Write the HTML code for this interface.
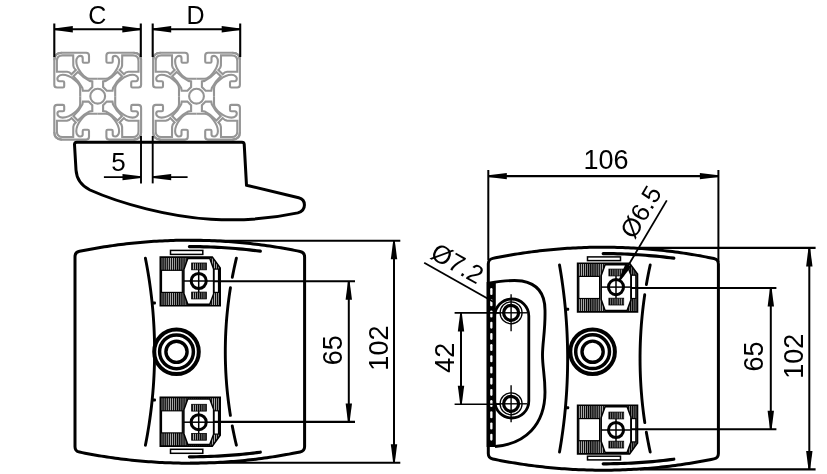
<!DOCTYPE html><html><head><meta charset="utf-8"><style>html,body{margin:0;padding:0;background:#fff;width:827px;height:474px;overflow:hidden}</style></head><body><svg width="827" height="474" viewBox="0 0 827 474" style="display:block;will-change:transform">
<defs><pattern id="hatch" patternUnits="userSpaceOnUse" width="2.1" height="4"><rect width="2.1" height="4" fill="#000"/><rect x="1.3" width="0.6" height="4" fill="#fff"/></pattern><pattern id="hatch2" patternUnits="userSpaceOnUse" width="2.1" height="4"><rect width="2.1" height="4" fill="#000"/><rect x="1.3" width="0.6" height="4" fill="#fff"/></pattern></defs>
<rect width="827" height="474" fill="#fff"/>
<g transform="translate(97.7 96.2)" fill="none" stroke="#959595" stroke-width="2.1">
<g transform="matrix(1 0 0 1 0 0)">
<path d="M0,-17.5 L-7.8,-17.5 C-10.5,-17.5 -14,-20 -16.6,-23.4 C-19.5,-27 -21.4,-30.5 -21.4,-35 C-21.4,-38.8 -19,-40.3 -17.6,-40.3 C-15.9,-40.3 -15,-39.4 -15,-38.3 L-15,-34.8 Q-15,-33.5 -13.8,-33.5 L-10,-33.5 Q-8.7,-33.5 -8.7,-34.8 L-8.7,-40.6 Q-8.7,-43.4 -11.5,-43.4 L-35.9,-43.4 Q-43.4,-43.4 -43.4,-35.9"/>
<path transform="matrix(0 1 1 0 0 0)" d="M0,-17.5 L-7.8,-17.5 C-10.5,-17.5 -14,-20 -16.6,-23.4 C-19.5,-27 -21.4,-30.5 -21.4,-35 C-21.4,-38.8 -19,-40.3 -17.6,-40.3 C-15.9,-40.3 -15,-39.4 -15,-38.3 L-15,-34.8 Q-15,-33.5 -13.8,-33.5 L-10,-33.5 Q-8.7,-33.5 -8.7,-34.8 L-8.7,-40.6 Q-8.7,-43.4 -11.5,-43.4 L-35.9,-43.4 Q-43.4,-43.4 -43.4,-35.9"/>
<path d="M-40.8,-35.3 Q-40.8,-40.8 -35.3,-40.8 L-24.5,-40.8 L-24.4,-30.6 Q-24.2,-28.2 -21.9,-26.2 L-26.2,-21.9 Q-28.2,-24.2 -30.6,-24.4 L-40.8,-24.5 Z"/>
<path d="M-24.3,-19.9 L-19.9,-24.3 C-17.3,-21.5 -12.5,-17.3 -8.2,-15.3 L-5.4,-14.8 L-5.4,-9.1 L-9.1,-5.4 L-14.8,-5.4 L-15.3,-8.2 C-17.3,-12.5 -21.5,-17.3 -24.3,-19.9 Z"/>
</g>
<g transform="matrix(-1 0 0 1 0 0)">
<path d="M0,-17.5 L-7.8,-17.5 C-10.5,-17.5 -14,-20 -16.6,-23.4 C-19.5,-27 -21.4,-30.5 -21.4,-35 C-21.4,-38.8 -19,-40.3 -17.6,-40.3 C-15.9,-40.3 -15,-39.4 -15,-38.3 L-15,-34.8 Q-15,-33.5 -13.8,-33.5 L-10,-33.5 Q-8.7,-33.5 -8.7,-34.8 L-8.7,-40.6 Q-8.7,-43.4 -11.5,-43.4 L-35.9,-43.4 Q-43.4,-43.4 -43.4,-35.9"/>
<path transform="matrix(0 1 1 0 0 0)" d="M0,-17.5 L-7.8,-17.5 C-10.5,-17.5 -14,-20 -16.6,-23.4 C-19.5,-27 -21.4,-30.5 -21.4,-35 C-21.4,-38.8 -19,-40.3 -17.6,-40.3 C-15.9,-40.3 -15,-39.4 -15,-38.3 L-15,-34.8 Q-15,-33.5 -13.8,-33.5 L-10,-33.5 Q-8.7,-33.5 -8.7,-34.8 L-8.7,-40.6 Q-8.7,-43.4 -11.5,-43.4 L-35.9,-43.4 Q-43.4,-43.4 -43.4,-35.9"/>
<path d="M-40.8,-35.3 Q-40.8,-40.8 -35.3,-40.8 L-24.5,-40.8 L-24.4,-30.6 Q-24.2,-28.2 -21.9,-26.2 L-26.2,-21.9 Q-28.2,-24.2 -30.6,-24.4 L-40.8,-24.5 Z"/>
<path d="M-24.3,-19.9 L-19.9,-24.3 C-17.3,-21.5 -12.5,-17.3 -8.2,-15.3 L-5.4,-14.8 L-5.4,-9.1 L-9.1,-5.4 L-14.8,-5.4 L-15.3,-8.2 C-17.3,-12.5 -21.5,-17.3 -24.3,-19.9 Z"/>
</g>
<g transform="matrix(1 0 0 -1 0 0)">
<path d="M0,-17.5 L-7.8,-17.5 C-10.5,-17.5 -14,-20 -16.6,-23.4 C-19.5,-27 -21.4,-30.5 -21.4,-35 C-21.4,-38.8 -19,-40.3 -17.6,-40.3 C-15.9,-40.3 -15,-39.4 -15,-38.3 L-15,-34.8 Q-15,-33.5 -13.8,-33.5 L-10,-33.5 Q-8.7,-33.5 -8.7,-34.8 L-8.7,-40.6 Q-8.7,-43.4 -11.5,-43.4 L-35.9,-43.4 Q-43.4,-43.4 -43.4,-35.9"/>
<path transform="matrix(0 1 1 0 0 0)" d="M0,-17.5 L-7.8,-17.5 C-10.5,-17.5 -14,-20 -16.6,-23.4 C-19.5,-27 -21.4,-30.5 -21.4,-35 C-21.4,-38.8 -19,-40.3 -17.6,-40.3 C-15.9,-40.3 -15,-39.4 -15,-38.3 L-15,-34.8 Q-15,-33.5 -13.8,-33.5 L-10,-33.5 Q-8.7,-33.5 -8.7,-34.8 L-8.7,-40.6 Q-8.7,-43.4 -11.5,-43.4 L-35.9,-43.4 Q-43.4,-43.4 -43.4,-35.9"/>
<path d="M-40.8,-35.3 Q-40.8,-40.8 -35.3,-40.8 L-24.5,-40.8 L-24.4,-30.6 Q-24.2,-28.2 -21.9,-26.2 L-26.2,-21.9 Q-28.2,-24.2 -30.6,-24.4 L-40.8,-24.5 Z"/>
<path d="M-24.3,-19.9 L-19.9,-24.3 C-17.3,-21.5 -12.5,-17.3 -8.2,-15.3 L-5.4,-14.8 L-5.4,-9.1 L-9.1,-5.4 L-14.8,-5.4 L-15.3,-8.2 C-17.3,-12.5 -21.5,-17.3 -24.3,-19.9 Z"/>
</g>
<g transform="matrix(-1 0 0 -1 0 0)">
<path d="M0,-17.5 L-7.8,-17.5 C-10.5,-17.5 -14,-20 -16.6,-23.4 C-19.5,-27 -21.4,-30.5 -21.4,-35 C-21.4,-38.8 -19,-40.3 -17.6,-40.3 C-15.9,-40.3 -15,-39.4 -15,-38.3 L-15,-34.8 Q-15,-33.5 -13.8,-33.5 L-10,-33.5 Q-8.7,-33.5 -8.7,-34.8 L-8.7,-40.6 Q-8.7,-43.4 -11.5,-43.4 L-35.9,-43.4 Q-43.4,-43.4 -43.4,-35.9"/>
<path transform="matrix(0 1 1 0 0 0)" d="M0,-17.5 L-7.8,-17.5 C-10.5,-17.5 -14,-20 -16.6,-23.4 C-19.5,-27 -21.4,-30.5 -21.4,-35 C-21.4,-38.8 -19,-40.3 -17.6,-40.3 C-15.9,-40.3 -15,-39.4 -15,-38.3 L-15,-34.8 Q-15,-33.5 -13.8,-33.5 L-10,-33.5 Q-8.7,-33.5 -8.7,-34.8 L-8.7,-40.6 Q-8.7,-43.4 -11.5,-43.4 L-35.9,-43.4 Q-43.4,-43.4 -43.4,-35.9"/>
<path d="M-40.8,-35.3 Q-40.8,-40.8 -35.3,-40.8 L-24.5,-40.8 L-24.4,-30.6 Q-24.2,-28.2 -21.9,-26.2 L-26.2,-21.9 Q-28.2,-24.2 -30.6,-24.4 L-40.8,-24.5 Z"/>
<path d="M-24.3,-19.9 L-19.9,-24.3 C-17.3,-21.5 -12.5,-17.3 -8.2,-15.3 L-5.4,-14.8 L-5.4,-9.1 L-9.1,-5.4 L-14.8,-5.4 L-15.3,-8.2 C-17.3,-12.5 -21.5,-17.3 -24.3,-19.9 Z"/>
</g>
<circle cx="0" cy="0" r="7.4"/>
</g>
<g transform="translate(196.5 96.2)" fill="none" stroke="#959595" stroke-width="2.1">
<g transform="matrix(1 0 0 1 0 0)">
<path d="M0,-17.5 L-7.8,-17.5 C-10.5,-17.5 -14,-20 -16.6,-23.4 C-19.5,-27 -21.4,-30.5 -21.4,-35 C-21.4,-38.8 -19,-40.3 -17.6,-40.3 C-15.9,-40.3 -15,-39.4 -15,-38.3 L-15,-34.8 Q-15,-33.5 -13.8,-33.5 L-10,-33.5 Q-8.7,-33.5 -8.7,-34.8 L-8.7,-40.6 Q-8.7,-43.4 -11.5,-43.4 L-35.9,-43.4 Q-43.4,-43.4 -43.4,-35.9"/>
<path transform="matrix(0 1 1 0 0 0)" d="M0,-17.5 L-7.8,-17.5 C-10.5,-17.5 -14,-20 -16.6,-23.4 C-19.5,-27 -21.4,-30.5 -21.4,-35 C-21.4,-38.8 -19,-40.3 -17.6,-40.3 C-15.9,-40.3 -15,-39.4 -15,-38.3 L-15,-34.8 Q-15,-33.5 -13.8,-33.5 L-10,-33.5 Q-8.7,-33.5 -8.7,-34.8 L-8.7,-40.6 Q-8.7,-43.4 -11.5,-43.4 L-35.9,-43.4 Q-43.4,-43.4 -43.4,-35.9"/>
<path d="M-40.8,-35.3 Q-40.8,-40.8 -35.3,-40.8 L-24.5,-40.8 L-24.4,-30.6 Q-24.2,-28.2 -21.9,-26.2 L-26.2,-21.9 Q-28.2,-24.2 -30.6,-24.4 L-40.8,-24.5 Z"/>
<path d="M-24.3,-19.9 L-19.9,-24.3 C-17.3,-21.5 -12.5,-17.3 -8.2,-15.3 L-5.4,-14.8 L-5.4,-9.1 L-9.1,-5.4 L-14.8,-5.4 L-15.3,-8.2 C-17.3,-12.5 -21.5,-17.3 -24.3,-19.9 Z"/>
</g>
<g transform="matrix(-1 0 0 1 0 0)">
<path d="M0,-17.5 L-7.8,-17.5 C-10.5,-17.5 -14,-20 -16.6,-23.4 C-19.5,-27 -21.4,-30.5 -21.4,-35 C-21.4,-38.8 -19,-40.3 -17.6,-40.3 C-15.9,-40.3 -15,-39.4 -15,-38.3 L-15,-34.8 Q-15,-33.5 -13.8,-33.5 L-10,-33.5 Q-8.7,-33.5 -8.7,-34.8 L-8.7,-40.6 Q-8.7,-43.4 -11.5,-43.4 L-35.9,-43.4 Q-43.4,-43.4 -43.4,-35.9"/>
<path transform="matrix(0 1 1 0 0 0)" d="M0,-17.5 L-7.8,-17.5 C-10.5,-17.5 -14,-20 -16.6,-23.4 C-19.5,-27 -21.4,-30.5 -21.4,-35 C-21.4,-38.8 -19,-40.3 -17.6,-40.3 C-15.9,-40.3 -15,-39.4 -15,-38.3 L-15,-34.8 Q-15,-33.5 -13.8,-33.5 L-10,-33.5 Q-8.7,-33.5 -8.7,-34.8 L-8.7,-40.6 Q-8.7,-43.4 -11.5,-43.4 L-35.9,-43.4 Q-43.4,-43.4 -43.4,-35.9"/>
<path d="M-40.8,-35.3 Q-40.8,-40.8 -35.3,-40.8 L-24.5,-40.8 L-24.4,-30.6 Q-24.2,-28.2 -21.9,-26.2 L-26.2,-21.9 Q-28.2,-24.2 -30.6,-24.4 L-40.8,-24.5 Z"/>
<path d="M-24.3,-19.9 L-19.9,-24.3 C-17.3,-21.5 -12.5,-17.3 -8.2,-15.3 L-5.4,-14.8 L-5.4,-9.1 L-9.1,-5.4 L-14.8,-5.4 L-15.3,-8.2 C-17.3,-12.5 -21.5,-17.3 -24.3,-19.9 Z"/>
</g>
<g transform="matrix(1 0 0 -1 0 0)">
<path d="M0,-17.5 L-7.8,-17.5 C-10.5,-17.5 -14,-20 -16.6,-23.4 C-19.5,-27 -21.4,-30.5 -21.4,-35 C-21.4,-38.8 -19,-40.3 -17.6,-40.3 C-15.9,-40.3 -15,-39.4 -15,-38.3 L-15,-34.8 Q-15,-33.5 -13.8,-33.5 L-10,-33.5 Q-8.7,-33.5 -8.7,-34.8 L-8.7,-40.6 Q-8.7,-43.4 -11.5,-43.4 L-35.9,-43.4 Q-43.4,-43.4 -43.4,-35.9"/>
<path transform="matrix(0 1 1 0 0 0)" d="M0,-17.5 L-7.8,-17.5 C-10.5,-17.5 -14,-20 -16.6,-23.4 C-19.5,-27 -21.4,-30.5 -21.4,-35 C-21.4,-38.8 -19,-40.3 -17.6,-40.3 C-15.9,-40.3 -15,-39.4 -15,-38.3 L-15,-34.8 Q-15,-33.5 -13.8,-33.5 L-10,-33.5 Q-8.7,-33.5 -8.7,-34.8 L-8.7,-40.6 Q-8.7,-43.4 -11.5,-43.4 L-35.9,-43.4 Q-43.4,-43.4 -43.4,-35.9"/>
<path d="M-40.8,-35.3 Q-40.8,-40.8 -35.3,-40.8 L-24.5,-40.8 L-24.4,-30.6 Q-24.2,-28.2 -21.9,-26.2 L-26.2,-21.9 Q-28.2,-24.2 -30.6,-24.4 L-40.8,-24.5 Z"/>
<path d="M-24.3,-19.9 L-19.9,-24.3 C-17.3,-21.5 -12.5,-17.3 -8.2,-15.3 L-5.4,-14.8 L-5.4,-9.1 L-9.1,-5.4 L-14.8,-5.4 L-15.3,-8.2 C-17.3,-12.5 -21.5,-17.3 -24.3,-19.9 Z"/>
</g>
<g transform="matrix(-1 0 0 -1 0 0)">
<path d="M0,-17.5 L-7.8,-17.5 C-10.5,-17.5 -14,-20 -16.6,-23.4 C-19.5,-27 -21.4,-30.5 -21.4,-35 C-21.4,-38.8 -19,-40.3 -17.6,-40.3 C-15.9,-40.3 -15,-39.4 -15,-38.3 L-15,-34.8 Q-15,-33.5 -13.8,-33.5 L-10,-33.5 Q-8.7,-33.5 -8.7,-34.8 L-8.7,-40.6 Q-8.7,-43.4 -11.5,-43.4 L-35.9,-43.4 Q-43.4,-43.4 -43.4,-35.9"/>
<path transform="matrix(0 1 1 0 0 0)" d="M0,-17.5 L-7.8,-17.5 C-10.5,-17.5 -14,-20 -16.6,-23.4 C-19.5,-27 -21.4,-30.5 -21.4,-35 C-21.4,-38.8 -19,-40.3 -17.6,-40.3 C-15.9,-40.3 -15,-39.4 -15,-38.3 L-15,-34.8 Q-15,-33.5 -13.8,-33.5 L-10,-33.5 Q-8.7,-33.5 -8.7,-34.8 L-8.7,-40.6 Q-8.7,-43.4 -11.5,-43.4 L-35.9,-43.4 Q-43.4,-43.4 -43.4,-35.9"/>
<path d="M-40.8,-35.3 Q-40.8,-40.8 -35.3,-40.8 L-24.5,-40.8 L-24.4,-30.6 Q-24.2,-28.2 -21.9,-26.2 L-26.2,-21.9 Q-28.2,-24.2 -30.6,-24.4 L-40.8,-24.5 Z"/>
<path d="M-24.3,-19.9 L-19.9,-24.3 C-17.3,-21.5 -12.5,-17.3 -8.2,-15.3 L-5.4,-14.8 L-5.4,-9.1 L-9.1,-5.4 L-14.8,-5.4 L-15.3,-8.2 C-17.3,-12.5 -21.5,-17.3 -24.3,-19.9 Z"/>
</g>
<circle cx="0" cy="0" r="7.4"/>
</g>
<g stroke="#000" fill="#000">
<line x1="54.3" y1="23.5" x2="54.3" y2="57" stroke-width="2.1" />
<line x1="140.8" y1="23.5" x2="140.8" y2="57" stroke-width="2.1" />
<line x1="152.7" y1="23.5" x2="152.7" y2="57" stroke-width="2.1" />
<line x1="240.2" y1="23.5" x2="240.2" y2="57" stroke-width="2.1" />
<line x1="54.3" y1="29.3" x2="140.8" y2="29.3" stroke-width="2.1" />
<line x1="152.7" y1="29.3" x2="240.2" y2="29.3" stroke-width="2.1" />
<polygon stroke="none" points="54.3,28.5 72.8,26.1 72.8,32.5 54.3,30.1"/>
<polygon stroke="none" points="140.8,30.1 122.3,32.5 122.3,26.1 140.8,28.5"/>
<polygon stroke="none" points="152.7,28.5 171.2,26.1 171.2,32.5 152.7,30.1"/>
<polygon stroke="none" points="240.2,30.1 221.7,32.5 221.7,26.1 240.2,28.5"/>
</g>
<text x="97.2" y="14.8" font-family="Liberation Sans, sans-serif" font-size="25" text-anchor="middle" dominant-baseline="central" transform="rotate(0 97.2 14.8)">C</text>
<text x="195.5" y="14.8" font-family="Liberation Sans, sans-serif" font-size="25" text-anchor="middle" dominant-baseline="central" transform="rotate(0 195.5 14.8)">D</text>
<path d="M74.5,144.5 Q74.5,142.2 76.8,142.2 L242,142.2 Q244,142.2 244.2,144.2 L246.5,185.3 L298.7,197.7 C306,199.5 307,210 297.8,212.9 C272,218.5 240,221 211,219.2 C170,217 120,203.5 90,190 C81,185.5 76.6,179 76,170 L74.5,144.5 Z" fill="none" stroke="#000" stroke-width="3" stroke-linejoin="round"/>
<g stroke="#000" fill="#000">
<line x1="141" y1="136" x2="141" y2="183.4" stroke-width="1.9" />
<line x1="152.7" y1="136" x2="152.7" y2="183.4" stroke-width="1.9" />
<line x1="103.9" y1="177.1" x2="141" y2="177.1" stroke-width="1.9" />
<line x1="152.7" y1="177.1" x2="187.6" y2="177.1" stroke-width="1.9" />
<polygon stroke="none" points="141,177.9 122.5,180.3 122.5,173.9 141,176.3"/>
<polygon stroke="none" points="152.7,176.3 171.2,173.9 171.2,180.3 152.7,177.9"/>
</g>
<text x="118.6" y="162" font-family="Liberation Sans, sans-serif" font-size="26" text-anchor="middle" dominant-baseline="central" transform="rotate(0 118.6 162)">5</text>
<path d="M75,256.77 Q75,252.27 79.5,251.33 L79.5,251.33 L82.26,250.78 L85.02,250.23 L87.77,249.71 L90.53,249.19 L93.29,248.7 L96.05,248.21 L98.8,247.74 L101.56,247.29 L104.32,246.85 L107.08,246.42 L109.83,246.01 L112.59,245.61 L115.35,245.23 L118.11,244.86 L120.86,244.51 L123.62,244.17 L126.38,243.84 L129.13,243.53 L131.89,243.23 L134.65,242.95 L137.41,242.68 L140.17,242.42 L142.92,242.18 L145.68,241.95 L148.44,241.74 L151.19,241.54 L153.95,241.35 L156.71,241.18 L159.47,241.02 L162.23,240.88 L164.98,240.75 L167.74,240.63 L170.5,240.53 L173.25,240.44 L176.01,240.37 L178.77,240.3 L181.53,240.26 L184.29,240.22 L187.04,240.21 L189.8,240.2 L192.56,240.21 L195.31,240.23 L198.07,240.27 L200.83,240.32 L203.59,240.38 L206.34,240.46 L209.1,240.55 L211.86,240.66 L214.62,240.77 L217.38,240.91 L220.13,241.06 L222.89,241.22 L225.65,241.39 L228.41,241.58 L231.16,241.78 L233.92,242 L236.68,242.23 L239.44,242.48 L242.19,242.73 L244.95,243.01 L247.71,243.29 L250.47,243.6 L253.22,243.91 L255.98,244.24 L258.74,244.58 L261.5,244.94 L264.25,245.31 L267.01,245.7 L269.77,246.1 L272.53,246.51 L275.28,246.94 L278.04,247.39 L280.8,247.84 L283.56,248.32 L286.31,248.8 L289.07,249.3 L291.83,249.82 L294.59,250.35 L297.34,250.9 L300.1,251.46 Q304.6,252.4 304.6,256.9 L304.6,446.5 Q304.6,451 300.1,451.94 L300.1,451.94 L297.34,452.5 L294.59,453.05 L291.83,453.58 L289.07,454.1 L286.31,454.6 L283.56,455.08 L280.8,455.56 L278.04,456.01 L275.28,456.46 L272.53,456.89 L269.77,457.3 L267.01,457.7 L264.25,458.09 L261.5,458.46 L258.74,458.82 L255.98,459.16 L253.22,459.49 L250.47,459.8 L247.71,460.11 L244.95,460.39 L242.19,460.67 L239.44,460.92 L236.68,461.17 L233.92,461.4 L231.16,461.62 L228.41,461.82 L225.65,462.01 L222.89,462.18 L220.13,462.34 L217.38,462.49 L214.62,462.63 L211.86,462.74 L209.1,462.85 L206.34,462.94 L203.59,463.02 L200.83,463.08 L198.07,463.13 L195.31,463.17 L192.56,463.19 L189.8,463.2 L187.04,463.19 L184.29,463.18 L181.53,463.14 L178.77,463.1 L176.01,463.03 L173.25,462.96 L170.5,462.87 L167.74,462.77 L164.98,462.65 L162.23,462.52 L159.47,462.38 L156.71,462.22 L153.95,462.05 L151.19,461.86 L148.44,461.66 L145.68,461.45 L142.92,461.22 L140.17,460.98 L137.41,460.72 L134.65,460.45 L131.89,460.17 L129.13,459.87 L126.38,459.56 L123.62,459.23 L120.86,458.89 L118.11,458.54 L115.35,458.17 L112.59,457.79 L109.83,457.39 L107.08,456.98 L104.32,456.55 L101.56,456.11 L98.8,455.66 L96.05,455.19 L93.29,454.7 L90.53,454.21 L87.77,453.69 L85.02,453.17 L82.26,452.62 L79.5,452.07 Q75,451.13 75,446.63 Z" fill="none" stroke="#000" stroke-width="3" stroke-linejoin="round"/>
<path d="M189.4,246.6 L192.94,246.61 L196.49,246.64 L200.03,246.7 L203.58,246.78 L207.12,246.88 L210.67,247.01 L214.22,247.16 L217.76,247.33 L221.31,247.52 L224.85,247.74 L228.4,247.98 L231.94,248.24 L235.49,248.53 L239.03,248.84 L242.57,249.17 L246.12,249.53 L249.67,249.91 L253.21,250.31 L256.75,250.74 L260.3,251.18" fill="none" stroke="#000" stroke-width="3.2" stroke-linecap="round"/>
<path d="M189.4,456.8 L192.94,456.79 L196.49,456.76 L200.03,456.7 L203.58,456.62 L207.12,456.52 L210.67,456.39 L214.22,456.24 L217.76,456.07 L221.31,455.88 L224.85,455.66 L228.4,455.42 L231.94,455.16 L235.49,454.87 L239.03,454.56 L242.57,454.23 L246.12,453.87 L249.67,453.49 L253.21,453.09 L256.75,452.66 L260.3,452.22" fill="none" stroke="#000" stroke-width="3.2" stroke-linecap="round"/>
<rect x="170.5" y="250.4" width="32.3" height="4" fill="#fff" stroke="#000" stroke-width="1.5"/>
<rect x="170.5" y="449.3" width="32.3" height="4" fill="#fff" stroke="#000" stroke-width="1.5"/>
<g transform="translate(160.3 257.1)">
<path d="M0,0 L52,0 L59.9,10.8 L59.9,48.7 L0,48.7 Z" fill="url(#hatch)" stroke="#000" stroke-width="1.6"/>
<rect x="1.2" y="13.2" width="20.8" height="22.1" fill="#fff" stroke="#000" stroke-width="1.2"/>
<path d="M23.6,12.4 L27.5,1.5 L49.5,1.5 L53.3,11.9 L53.3,36.8 L49.5,47.2 L27.5,47.2 L23.6,36.3 Z" fill="#fff" stroke="#000" stroke-width="1.5"/>
<rect x="53.8" y="12" width="4.4" height="23.3" fill="#fff" stroke="#000" stroke-width="1.2"/>
<rect x="31.3" y="5.9" width="14.8" height="6.8" fill="url(#hatch2)" stroke="#000" stroke-width="0.8"/>
<rect x="31.3" y="35.0" width="14.8" height="6.8" fill="url(#hatch2)" stroke="#000" stroke-width="0.8"/>
<circle cx="38.4" cy="23.9" r="7.55" fill="none" stroke="#000" stroke-width="3"/>
<line x1="23.6" y1="23.9" x2="53.3" y2="23.9" stroke-width="1.5" stroke="#000"/>
<line x1="38.4" y1="12.7" x2="38.4" y2="35" stroke-width="1.5" stroke="#000"/>
</g>
<g transform="translate(160.3 446.1) scale(1 -1)">
<path d="M0,0 L52,0 L59.9,10.8 L59.9,48.7 L0,48.7 Z" fill="url(#hatch)" stroke="#000" stroke-width="1.6"/>
<rect x="1.2" y="13.2" width="20.8" height="22.1" fill="#fff" stroke="#000" stroke-width="1.2"/>
<path d="M23.6,12.4 L27.5,1.5 L49.5,1.5 L53.3,11.9 L53.3,36.8 L49.5,47.2 L27.5,47.2 L23.6,36.3 Z" fill="#fff" stroke="#000" stroke-width="1.5"/>
<rect x="53.8" y="12" width="4.4" height="23.3" fill="#fff" stroke="#000" stroke-width="1.2"/>
<rect x="31.3" y="5.9" width="14.8" height="6.8" fill="url(#hatch2)" stroke="#000" stroke-width="0.8"/>
<rect x="31.3" y="35.0" width="14.8" height="6.8" fill="url(#hatch2)" stroke="#000" stroke-width="0.8"/>
<circle cx="38.4" cy="23.9" r="7.55" fill="none" stroke="#000" stroke-width="3"/>
<line x1="23.6" y1="23.9" x2="53.3" y2="23.9" stroke-width="1.5" stroke="#000"/>
<line x1="38.4" y1="12.7" x2="38.4" y2="35" stroke-width="1.5" stroke="#000"/>
</g>
<g fill="none" stroke="#000">
<circle cx="176.5" cy="351.8" r="22.3" stroke-width="4"/>
<circle cx="176.5" cy="351.8" r="16.9" stroke-width="3.5"/>
<circle cx="176.5" cy="351.8" r="10.6" stroke-width="3.4"/>
</g>
<path d="M145.4,258.2 L145.99,261.22 L146.56,264.23 L147.11,267.25 L147.64,270.26 L148.15,273.28 L148.64,276.3 L149.11,279.31 L149.56,282.33 L149.99,285.35 L150.4,288.36 L150.79,291.38 L151.16,294.39 L151.52,297.41 L151.85,300.43 L152.17,303.44 L152.46,306.46 L152.74,309.47 L152.99,312.49 L153.23,315.51 L153.45,318.52 L153.65,321.54 L153.83,324.55 L153.99,327.57 L154.14,330.59 L154.26,333.6 L154.36,336.62 L154.45,339.64 L154.51,342.65 L154.56,345.67 L154.59,348.68 L154.6,351.7 L154.59,354.72 L154.56,357.73 L154.51,360.75 L154.45,363.76 L154.36,366.78 L154.26,369.8 L154.14,372.81 L153.99,375.83 L153.83,378.85 L153.65,381.86 L153.45,384.88 L153.23,387.89 L152.99,390.91 L152.74,393.93 L152.46,396.94 L152.17,399.96 L151.85,402.97 L151.52,405.99 L151.16,409.01 L150.79,412.02 L150.4,415.04 L149.99,418.05 L149.56,421.07 L149.11,424.09 L148.64,427.1 L148.15,430.12 L147.64,433.14 L147.11,436.15 L146.56,439.17 L145.99,442.18 L145.4,445.2" fill="none" stroke="#000" stroke-width="2.9" stroke-linecap="round"/>
<path d="M236.4,258.2 L235.65,261.38 L234.92,264.57 L234.22,267.75 L233.55,270.93 L232.91,274.12 L232.29,277.3" fill="none" stroke="#000" stroke-width="2.9" stroke-linecap="round"/>
<path d="M230.45,287.8 L229.97,290.84 L229.51,293.88 L229.08,296.91 L228.67,299.95 L228.28,302.99 L227.92,306.03 L227.58,309.07 L227.27,312.1 L226.98,315.14 L226.71,318.18 L226.46,321.22 L226.24,324.26 L226.05,327.3 L225.87,330.33 L225.72,333.37 L225.59,336.41 L225.49,339.45 L225.41,342.49 L225.35,345.52 L225.31,348.56 L225.3,351.6 L225.31,354.64 L225.34,357.68 L225.4,360.71 L225.48,363.75 L225.59,366.79 L225.71,369.83 L225.86,372.87 L226.03,375.9 L226.23,378.94 L226.45,381.98 L226.69,385.02 L226.96,388.06 L227.25,391.1 L227.56,394.13 L227.9,397.17 L228.26,400.21 L228.64,403.25 L229.05,406.29 L229.48,409.32 L229.93,412.36 L230.41,415.4" fill="none" stroke="#000" stroke-width="2.9" stroke-linecap="round"/>
<path d="M232.25,425.9 L232.88,429.12 L233.53,432.33 L234.2,435.55 L234.91,438.77 L235.64,441.98 L236.4,445.2" fill="none" stroke="#000" stroke-width="2.9" stroke-linecap="round"/>
<rect x="151.32" y="301.5" width="4.6" height="3" rx="1" fill="#000"/>
<rect x="151.36" y="398.5" width="4.6" height="3" rx="1" fill="#000"/>
<g stroke="#000">
<line x1="190" y1="240.8" x2="400.3" y2="240.8" stroke-width="2.1" />
<line x1="190" y1="462.7" x2="400.3" y2="462.7" stroke-width="2.1" />
<line x1="214" y1="281.3" x2="355" y2="281.3" stroke-width="2.1" />
<line x1="214" y1="421.9" x2="355" y2="421.9" stroke-width="2.1" />
</g>
<g stroke="#000" fill="#000"><line x1="394" y1="240.8" x2="394" y2="462.7" stroke-width="2" /><polygon stroke="none" points="394.8,240.8 397.2,259.3 390.8,259.3 393.2,240.8"/><polygon stroke="none" points="393.2,462.7 390.8,444.2 397.2,444.2 394.8,462.7"/></g>
<g stroke="#000" fill="#000"><line x1="348.8" y1="281.3" x2="348.8" y2="421.9" stroke-width="2" /><polygon stroke="none" points="349.6,281.3 352,299.8 345.6,299.8 348,281.3"/><polygon stroke="none" points="348,421.9 345.6,403.4 352,403.4 349.6,421.9"/></g>
<text x="332.9" y="350.15" font-family="Liberation Sans, sans-serif" font-size="27" text-anchor="middle" dominant-baseline="central" transform="rotate(-90 332.9 350.15)">65</text>
<text x="378.65" y="348.1" font-family="Liberation Sans, sans-serif" font-size="27" text-anchor="middle" dominant-baseline="central" transform="rotate(-90 378.65 348.1)">102</text>
<path d="M488.3,263.82 Q488.3,259.32 492.8,258.37 L492.8,258.37 L495.56,257.81 L498.33,257.27 L501.09,256.74 L503.86,256.23 L506.62,255.73 L509.38,255.24 L512.15,254.77 L514.91,254.31 L517.67,253.87 L520.44,253.44 L523.2,253.03 L525.97,252.63 L528.73,252.25 L531.49,251.88 L534.26,251.52 L537.02,251.18 L539.78,250.85 L542.55,250.54 L545.31,250.24 L548.08,249.95 L550.84,249.68 L553.6,249.43 L556.37,249.18 L559.13,248.96 L561.89,248.74 L564.66,248.54 L567.42,248.35 L570.18,248.18 L572.95,248.02 L575.71,247.88 L578.48,247.75 L581.24,247.63 L584,247.53 L586.77,247.44 L589.53,247.37 L592.29,247.3 L595.06,247.26 L597.82,247.22 L600.59,247.21 L603.35,247.2 L606.11,247.21 L608.88,247.23 L611.64,247.27 L614.4,247.32 L617.17,247.38 L619.93,247.46 L622.7,247.55 L625.46,247.66 L628.22,247.78 L630.99,247.91 L633.75,248.06 L636.51,248.22 L639.28,248.4 L642.04,248.59 L644.81,248.79 L647.57,249.01 L650.33,249.24 L653.1,249.49 L655.86,249.75 L658.62,250.03 L661.39,250.31 L664.15,250.62 L666.92,250.93 L669.68,251.26 L672.44,251.61 L675.21,251.97 L677.97,252.34 L680.74,252.73 L683.5,253.13 L686.26,253.55 L689.03,253.98 L691.79,254.43 L694.55,254.89 L697.32,255.36 L700.08,255.85 L702.85,256.36 L705.61,256.87 L708.37,257.41 L711.14,257.96 L713.9,258.52 Q718.4,259.47 718.4,263.97 L718.4,453.43 Q718.4,457.93 713.9,458.88 L713.9,458.88 L711.14,459.44 L708.37,459.99 L705.61,460.53 L702.85,461.04 L700.08,461.55 L697.32,462.04 L694.55,462.51 L691.79,462.97 L689.03,463.42 L686.26,463.85 L683.5,464.27 L680.74,464.67 L677.97,465.06 L675.21,465.43 L672.44,465.79 L669.68,466.14 L666.92,466.47 L664.15,466.78 L661.39,467.09 L658.62,467.37 L655.86,467.65 L653.1,467.91 L650.33,468.16 L647.57,468.39 L644.81,468.61 L642.04,468.81 L639.28,469 L636.51,469.18 L633.75,469.34 L630.99,469.49 L628.22,469.62 L625.46,469.74 L622.7,469.85 L619.93,469.94 L617.17,470.02 L614.4,470.08 L611.64,470.13 L608.88,470.17 L606.11,470.19 L603.35,470.2 L600.59,470.19 L597.82,470.18 L595.06,470.14 L592.29,470.1 L589.53,470.03 L586.77,469.96 L584,469.87 L581.24,469.77 L578.48,469.65 L575.71,469.52 L572.95,469.38 L570.18,469.22 L567.42,469.05 L564.66,468.86 L561.89,468.66 L559.13,468.44 L556.37,468.22 L553.6,467.97 L550.84,467.72 L548.08,467.45 L545.31,467.16 L542.55,466.86 L539.78,466.55 L537.02,466.22 L534.26,465.88 L531.49,465.52 L528.73,465.15 L525.97,464.77 L523.2,464.37 L520.44,463.96 L517.67,463.53 L514.91,463.09 L512.15,462.63 L509.38,462.16 L506.62,461.67 L503.86,461.17 L501.09,460.66 L498.33,460.13 L495.56,459.59 L492.8,459.03 Q488.3,458.08 488.3,453.58 Z" fill="none" stroke="#000" stroke-width="3" stroke-linejoin="round"/>
<path d="M603.2,253.6 L606.73,253.61 L610.26,253.65 L613.79,253.71 L617.32,253.79 L620.85,253.89 L624.38,254.02 L627.91,254.17 L631.44,254.34 L634.97,254.53 L638.5,254.75 L642.03,254.99 L645.56,255.25 L649.09,255.54 L652.62,255.85 L656.15,256.18 L659.68,256.53 L663.21,256.91 L666.74,257.31 L670.27,257.74 L673.8,258.18" fill="none" stroke="#000" stroke-width="3.2" stroke-linecap="round"/>
<path d="M603.2,463.8 L606.73,463.79 L610.26,463.75 L613.79,463.69 L617.32,463.61 L620.85,463.51 L624.38,463.38 L627.91,463.23 L631.44,463.06 L634.97,462.87 L638.5,462.65 L642.03,462.41 L645.56,462.15 L649.09,461.86 L652.62,461.55 L656.15,461.22 L659.68,460.87 L663.21,460.49 L666.74,460.09 L670.27,459.66 L673.8,459.22" fill="none" stroke="#000" stroke-width="3.2" stroke-linecap="round"/>
<rect x="587.5" y="256.9" width="33" height="3.7" fill="#fff" stroke="#000" stroke-width="1.5"/>
<rect x="587.5" y="456.2" width="33" height="3.7" fill="#fff" stroke="#000" stroke-width="1.5"/>
<g transform="translate(577.6 263.2)">
<path d="M0,0 L52,0 L59.9,10.8 L59.9,48.7 L0,48.7 Z" fill="url(#hatch)" stroke="#000" stroke-width="1.6"/>
<rect x="1.2" y="13.2" width="20.8" height="22.1" fill="#fff" stroke="#000" stroke-width="1.2"/>
<path d="M23.6,12.4 L27.5,1.5 L49.5,1.5 L53.3,11.9 L53.3,36.8 L49.5,47.2 L27.5,47.2 L23.6,36.3 Z" fill="#fff" stroke="#000" stroke-width="1.5"/>
<rect x="53.8" y="12" width="4.4" height="23.3" fill="#fff" stroke="#000" stroke-width="1.2"/>
<rect x="31.3" y="5.9" width="14.8" height="6.8" fill="url(#hatch2)" stroke="#000" stroke-width="0.8"/>
<rect x="31.3" y="35.0" width="14.8" height="6.8" fill="url(#hatch2)" stroke="#000" stroke-width="0.8"/>
<circle cx="38.4" cy="23.9" r="7.55" fill="none" stroke="#000" stroke-width="3"/>
<line x1="23.6" y1="23.9" x2="53.3" y2="23.9" stroke-width="1.5" stroke="#000"/>
<line x1="38.4" y1="12.7" x2="38.4" y2="35" stroke-width="1.5" stroke="#000"/>
</g>
<g transform="translate(577.6 453.9) scale(1 -1)">
<path d="M0,0 L52,0 L59.9,10.8 L59.9,48.7 L0,48.7 Z" fill="url(#hatch)" stroke="#000" stroke-width="1.6"/>
<rect x="1.2" y="13.2" width="20.8" height="22.1" fill="#fff" stroke="#000" stroke-width="1.2"/>
<path d="M23.6,12.4 L27.5,1.5 L49.5,1.5 L53.3,11.9 L53.3,36.8 L49.5,47.2 L27.5,47.2 L23.6,36.3 Z" fill="#fff" stroke="#000" stroke-width="1.5"/>
<rect x="53.8" y="12" width="4.4" height="23.3" fill="#fff" stroke="#000" stroke-width="1.2"/>
<rect x="31.3" y="5.9" width="14.8" height="6.8" fill="url(#hatch2)" stroke="#000" stroke-width="0.8"/>
<rect x="31.3" y="35.0" width="14.8" height="6.8" fill="url(#hatch2)" stroke="#000" stroke-width="0.8"/>
<circle cx="38.4" cy="23.9" r="7.55" fill="none" stroke="#000" stroke-width="3"/>
<line x1="23.6" y1="23.9" x2="53.3" y2="23.9" stroke-width="1.5" stroke="#000"/>
<line x1="38.4" y1="12.7" x2="38.4" y2="35" stroke-width="1.5" stroke="#000"/>
</g>
<g fill="none" stroke="#000">
<circle cx="592.6" cy="351.7" r="22.3" stroke-width="4"/>
<circle cx="592.6" cy="351.7" r="16.9" stroke-width="3.5"/>
<circle cx="592.6" cy="351.7" r="10.6" stroke-width="3.4"/>
</g>
<path d="M559.5,265 L560.02,268.02 L560.52,271.03 L561.01,274.05 L561.48,277.06 L561.93,280.08 L562.36,283.1 L562.78,286.11 L563.18,289.13 L563.56,292.15 L563.92,295.16 L564.27,298.18 L564.6,301.19 L564.91,304.21 L565.21,307.23 L565.49,310.24 L565.75,313.26 L565.99,316.27 L566.22,319.29 L566.43,322.31 L566.63,325.32 L566.8,328.34 L566.96,331.35 L567.11,334.37 L567.23,337.39 L567.34,340.4 L567.43,343.42 L567.51,346.44 L567.57,349.45 L567.61,352.47 L567.64,355.48 L567.64,358.5 L567.64,361.52 L567.61,364.53 L567.57,367.55 L567.51,370.56 L567.43,373.58 L567.34,376.6 L567.23,379.61 L567.11,382.63 L566.96,385.65 L566.8,388.66 L566.63,391.68 L566.43,394.69 L566.22,397.71 L565.99,400.73 L565.75,403.74 L565.49,406.76 L565.21,409.77 L564.91,412.79 L564.6,415.81 L564.27,418.82 L563.92,421.84 L563.56,424.85 L563.18,427.87 L562.78,430.89 L562.36,433.9 L561.93,436.92 L561.48,439.94 L561.01,442.95 L560.52,445.97 L560.02,448.98 L559.5,452" fill="none" stroke="#000" stroke-width="2.9" stroke-linecap="round"/>
<path d="M650.2,265 L649.5,268.25 L648.82,271.5 L648.17,274.75 L647.55,278 L646.95,281.25 L646.38,284.5" fill="none" stroke="#000" stroke-width="2.9" stroke-linecap="round"/>
<path d="M644.73,294.8 L644.29,297.84 L643.87,300.89 L643.48,303.93 L643.1,306.97 L642.75,310.01 L642.42,313.06 L642.11,316.1 L641.83,319.14 L641.56,322.19 L641.32,325.23 L641.1,328.27 L640.89,331.31 L640.72,334.36 L640.56,337.4 L640.42,340.44 L640.3,343.49 L640.21,346.53 L640.14,349.57 L640.09,352.61 L640.05,355.66 L640.05,358.7 L640.06,361.74 L640.09,364.79 L640.15,367.83 L640.22,370.87 L640.32,373.91 L640.44,376.96 L640.58,380 L640.74,383.04 L640.92,386.09 L641.12,389.13 L641.35,392.17 L641.6,395.21 L641.86,398.26 L642.15,401.3 L642.46,404.34 L642.8,407.39 L643.15,410.43 L643.53,413.47 L643.93,416.51 L644.35,419.56 L644.79,422.6" fill="none" stroke="#000" stroke-width="2.9" stroke-linecap="round"/>
<path d="M646.33,432.2 L646.91,435.5 L647.51,438.8 L648.14,442.1 L648.8,445.4 L649.49,448.7 L650.2,452" fill="none" stroke="#000" stroke-width="2.9" stroke-linecap="round"/>
<rect x="564.59" y="307.7" width="4.6" height="3" rx="1" fill="#000"/>
<rect x="564.59" y="406.3" width="4.6" height="3" rx="1" fill="#000"/>
<g stroke="#000">
<line x1="640" y1="247.9" x2="815.6" y2="247.9" stroke-width="2.1" />
<line x1="640" y1="469.4" x2="815.6" y2="469.4" stroke-width="2.1" />
<line x1="631" y1="288" x2="776.4" y2="288" stroke-width="2.1" />
<line x1="631" y1="429.3" x2="776.4" y2="429.3" stroke-width="2.1" />
<line x1="488.3" y1="170" x2="488.3" y2="260" stroke-width="2" />
<line x1="718.4" y1="170" x2="718.4" y2="262" stroke-width="2" />
<line x1="488.3" y1="176.1" x2="718.4" y2="176.1" stroke-width="2.1" />
</g>
<g fill="#000"><polygon stroke="none" points="488.3,175.3 506.8,172.9 506.8,179.3 488.3,176.9"/><polygon stroke="none" points="718.4,176.9 699.9,179.3 699.9,172.9 718.4,175.3"/></g>
<g stroke="#000" fill="#000"><line x1="809.3" y1="247.9" x2="809.3" y2="469.4" stroke-width="2" /><polygon stroke="none" points="810.1,247.9 812.5,266.4 806.1,266.4 808.5,247.9"/><polygon stroke="none" points="808.5,469.4 806.1,450.9 812.5,450.9 810.1,469.4"/></g>
<g stroke="#000" fill="#000"><line x1="770.8" y1="288" x2="770.8" y2="429.3" stroke-width="2" /><polygon stroke="none" points="771.6,288 774,306.5 767.6,306.5 770,288"/><polygon stroke="none" points="770,429.3 767.6,410.8 774,410.8 771.6,429.3"/></g>
<text x="754.3" y="356.5" font-family="Liberation Sans, sans-serif" font-size="27" text-anchor="middle" dominant-baseline="central" transform="rotate(-90 754.3 356.5)">65</text>
<text x="793.7" y="356.25" font-family="Liberation Sans, sans-serif" font-size="27" text-anchor="middle" dominant-baseline="central" transform="rotate(-90 793.7 356.25)">102</text>
<text x="606.1" y="159.6" font-family="Liberation Sans, sans-serif" font-size="27" text-anchor="middle" dominant-baseline="central" transform="rotate(0 606.1 159.6)">106</text>
<path d="M489,283.2 C500,281.3 512,279.5 522,281 C536,283.5 545,292 545,310 C545.5,330 542.5,342 542.5,355 C542.5,368 545,375 545,392 C545,425 525,444 495,446.5" fill="none" stroke="#000" stroke-width="2.9"/>
<rect x="486.6" y="282" width="9.2" height="165" fill="#000"/>
<rect x="490.2" y="288.1" width="2.3" height="7" rx="1.1" fill="#fff"/>
<rect x="490.2" y="299.3" width="2.3" height="7" rx="1.1" fill="#fff"/>
<rect x="490.2" y="310.5" width="2.3" height="7" rx="1.1" fill="#fff"/>
<rect x="490.2" y="321.7" width="2.3" height="7" rx="1.1" fill="#fff"/>
<rect x="490.2" y="332.9" width="2.3" height="7" rx="1.1" fill="#fff"/>
<rect x="490.2" y="344.1" width="2.3" height="7" rx="1.1" fill="#fff"/>
<rect x="490.2" y="355.3" width="2.3" height="7" rx="1.1" fill="#fff"/>
<rect x="490.2" y="366.5" width="2.3" height="7" rx="1.1" fill="#fff"/>
<rect x="490.2" y="377.7" width="2.3" height="7" rx="1.1" fill="#fff"/>
<rect x="490.2" y="388.9" width="2.3" height="7" rx="1.1" fill="#fff"/>
<rect x="490.2" y="400.1" width="2.3" height="7" rx="1.1" fill="#fff"/>
<rect x="490.2" y="411.3" width="2.3" height="7" rx="1.1" fill="#fff"/>
<rect x="490.2" y="422.5" width="2.3" height="7" rx="1.1" fill="#fff"/>
<rect x="490.2" y="433.7" width="2.3" height="7" rx="1.1" fill="#fff"/>
<path d="M494.8,316 A17,17 0 0 1 528.8,316 L528.8,401 A17,17 0 0 1 494.8,401 Z" fill="none" stroke="#000" stroke-width="2.8"/>
<circle cx="511.1" cy="312.8" r="7.5" fill="none" stroke="#000" stroke-width="3.2"/>
<circle cx="511.1" cy="312.8" r="11" fill="none" stroke="#000" stroke-width="1.3"/>
<g stroke="#000"><line x1="496" y1="312.8" x2="527" y2="312.8" stroke-width="1.4" /><line x1="511.1" y1="294.3" x2="511.1" y2="331.3" stroke-width="1.4" /></g>
<circle cx="511.1" cy="403.8" r="7.5" fill="none" stroke="#000" stroke-width="3.2"/>
<circle cx="511.1" cy="403.8" r="11" fill="none" stroke="#000" stroke-width="1.3"/>
<g stroke="#000"><line x1="496" y1="403.8" x2="527" y2="403.8" stroke-width="1.4" /><line x1="511.1" y1="385.3" x2="511.1" y2="422.3" stroke-width="1.4" /></g>
<g stroke="#000"><line x1="454.6" y1="312.9" x2="500" y2="312.9" stroke-width="1.6" /><line x1="454.6" y1="404.2" x2="500" y2="404.2" stroke-width="1.6" /></g>
<g stroke="#000" fill="#000"><line x1="461" y1="312.9" x2="461" y2="404.2" stroke-width="2" /><polygon stroke="none" points="461.8,312.9 464.2,331.4 457.8,331.4 460.2,312.9"/><polygon stroke="none" points="460.2,404.2 457.8,385.7 464.2,385.7 461.8,404.2"/></g>
<text x="444.6" y="357.8" font-family="Liberation Sans, sans-serif" font-size="27" text-anchor="middle" dominant-baseline="central" transform="rotate(-90 444.6 357.8)">42</text>
<g stroke="#000"><line x1="424.2" y1="262.8" x2="493.3" y2="301.7" stroke-width="1.8" /><line x1="666.8" y1="200.4" x2="619" y2="281.1" stroke-width="1.8" /></g>
<g fill="#000"><polygon stroke="none" points="618.31,280.69 625.67,263.55 631.18,266.81 619.69,281.51"/></g>
<text x="457.6" y="263.4" font-family="Liberation Sans, sans-serif" font-size="25.5" text-anchor="middle" dominant-baseline="central" transform="rotate(29.5 457.6 263.4)">&#216;7.2</text>
<text x="640.6" y="211.8" font-family="Liberation Sans, sans-serif" font-size="25.5" text-anchor="middle" dominant-baseline="central" transform="rotate(-59.2 640.6 211.8)">&#216;6.5</text>
</svg></body></html>
